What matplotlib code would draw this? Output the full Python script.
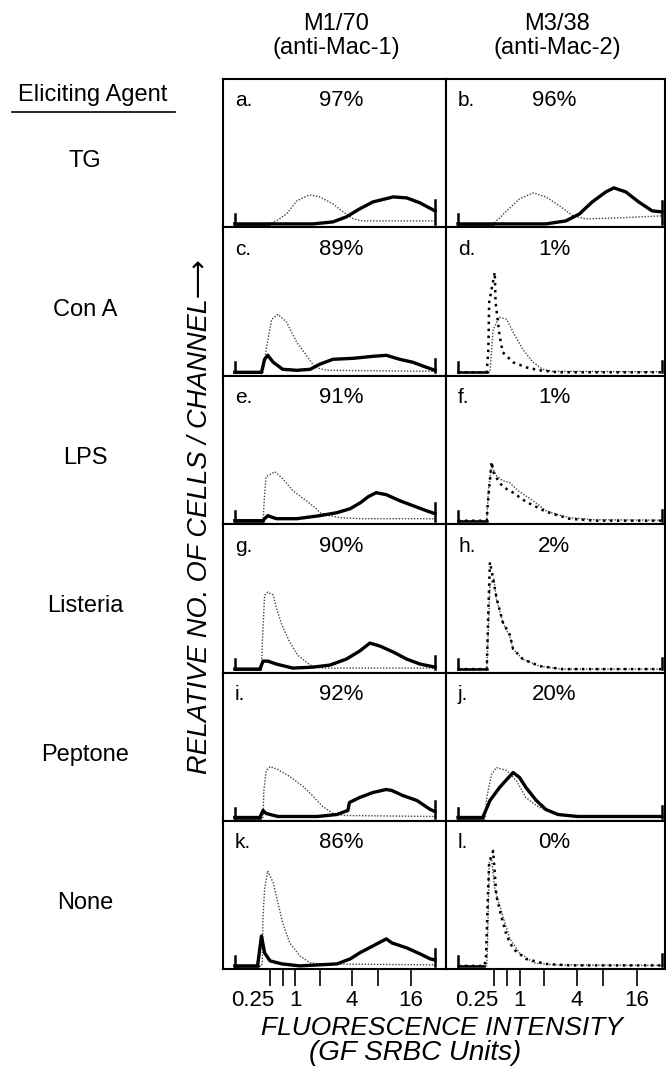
import numpy as np
import matplotlib
matplotlib.use("Agg")
import matplotlib.pyplot as plt
from matplotlib.transforms import ScaledTranslation

# -----------------------------
# Data: histograms
# (channel, relative no. of cells) for control (light) and antibody (dark)
# -----------------------------
row_labels = ["TG", "Con A", "LPS", "Listeria", "Peptone", "None"]
col_titles = [("M1/70", "(anti-Mac-1)"), ("M3/38", "(anti-Mac-2)")]
panel_letters = ["a.", "b.", "c.", "d.", "e.", "f.", "g.", "h.", "i.", "j.", "k.", "l."]
percents = ["97%", "96%", "89%", "1%", "91%", "1%", "90%", "2%", "92%", "20%", "86%", "0%"]

tick_channels = [45, 61, 77, 108, 149, 182, 224]
tick_labels = ["0.25", "", "1", "", "4", "", "16"]

a_ctrl = [(0, 0), (44, 0), (55, 4), (66, 10), (79, 23), (95, 29), (108, 27), (125, 20),
          (138, 12), (151, 5), (163, 3), (200, 3), (255, 3)]
a_mab = [(0, 0), (100, 0), (125, 2), (142, 7), (159, 15), (176, 22), (202, 27), (219, 26),
         (236, 21), (255, 13)]
b_ctrl = [(0, 0), (44, 0), (52, 6), (61, 13), (77, 25), (94, 31), (110, 27), (127, 18),
          (144, 8), (160, 5), (200, 6), (255, 8)]
b_mab = [(0, 0), (110, 0), (135, 3), (152, 10), (168, 22), (185, 32), (195, 36), (210, 32),
         (226, 22), (243, 13), (255, 12)]
c_ctrl = [(0, 0), (36, 0), (40, 23), (47, 53), (55, 58), (66, 50), (79, 30), (91, 17),
          (102, 5), (117, 2), (255, 1)]
c_mab = [(0, 0), (34, 0), (38, 13), (42, 17), (49, 10), (61, 3), (79, 2), (96, 3), (108, 8),
         (125, 13), (151, 14), (176, 16), (193, 17), (210, 13), (227, 10), (244, 5), (255, 2)]
d_ctrl = [(0, 0), (40, 0), (44, 43), (52, 55), (61, 53), (69, 40), (81, 23), (94, 10),
          (106, 3), (118, 1), (255, 0.5)]
d_mab = [(0, 0), (36, 0), (38, 23), (39, 70), (46, 100), (47, 70), (52, 37), (56, 20),
         (69, 10), (85, 5), (102, 2), (125, 0), (255, 0)]
e_ctrl = [(0, 0), (36, 0), (38, 27), (40, 44), (51, 49), (61, 42), (74, 30), (91, 20),
          (104, 12), (108, 8), (121, 5), (134, 3), (160, 2), (255, 2)]
e_mab = [(0, 0), (36, 0), (38, 2), (42, 5), (53, 2), (79, 2), (108, 5), (130, 8), (147, 12),
         (160, 18), (170, 24), (180, 28), (193, 26), (210, 20), (227, 15), (244, 10), (255, 7)]
f_ctrl = [(0, 0), (36, 0), (38, 30), (42, 55), (48, 45), (56, 40), (65, 38), (75, 30),
          (94, 20), (110, 10), (125, 6), (140, 3), (170, 1), (255, 0.5)]
f_mab = [(0, 0), (36, 0), (37, 14), (42, 59), (45, 47), (48, 43), (56, 34), (69, 28),
         (85, 19), (110, 9), (139, 2), (170, 0), (255, 0)]
g_ctrl = [(0, 0), (34, 0), (35, 24), (36, 41), (38, 74), (42, 77), (49, 74), (53, 61),
          (60, 44), (70, 27), (80, 14), (96, 4), (110, 1), (255, 1)]
g_mab = [(0, 0), (32, 0), (36, 8), (42, 8), (53, 5), (74, 1), (100, 2), (121, 4), (142, 10),
         (159, 18), (172, 26), (185, 23), (202, 17), (219, 10), (236, 5), (255, 2)]
h_ctrl = [(0, 0), (36, 0), (38, 40), (40, 85), (45, 90), (48, 70), (56, 47), (65, 32),
          (69, 20), (81, 10), (102, 3), (130, 0), (255, 0)]
h_mab = [(0, 0), (36, 0), (38, 60), (40, 107), (44, 90), (48, 72), (56, 47), (65, 34),
         (69, 20), (81, 10), (102, 3), (130, 0), (255, 0)]
i_ctrl = [(0, 0), (36, 0), (37, 27), (40, 47), (45, 51), (55, 48), (70, 41), (87, 31),
          (100, 21), (112, 11), (125, 4), (140, 2), (255, 1)]
i_mab = [(0, 0), (32, 0), (36, 7), (40, 4), (55, 1), (105, 1), (130, 3), (144, 7), (146, 15),
         (159, 20), (176, 25), (193, 28), (200, 27), (214, 22), (232, 17), (249, 8), (255, 6)]
j_ctrl = [(0, 0), (34, 0), (36, 20), (42, 43), (48, 50), (61, 47), (73, 37), (85, 20),
          (98, 12), (110, 7), (130, 2), (160, 1), (255, 1)]
j_mab = [(0, 0), (31, 0), (40, 17), (52, 30), (61, 38), (69, 45), (77, 40), (85, 30),
         (98, 17), (110, 8), (125, 3), (150, 1), (255, 1)]
k_ctrl = [(0, 0), (34, 0), (35, 3), (36, 50), (38, 77), (42, 95), (49, 83), (55, 63),
          (61, 43), (70, 23), (83, 10), (96, 3), (110, 2), (255, 1)]
k_mab = [(0, 0), (29, 0), (34, 30), (38, 13), (45, 5), (60, 2), (83, 0), (130, 2), (147, 7),
         (159, 13), (176, 20), (193, 27), (200, 23), (219, 18), (236, 12), (249, 7), (255, 6)]
l_ctrl = [(0, 0), (36, 0), (37, 23), (39, 103), (42, 107), (46, 77), (56, 50), (65, 27),
          (77, 13), (95, 3), (120, 1), (255, 0.5)]
l_mab = [(0, 0), (33, 0), (35, 7), (37, 60), (39, 103), (44, 115), (46, 93), (48, 70),
         (54, 50), (61, 30), (69, 17), (85, 7), (110, 2), (140, 0.5), (255, 0.5)]

controls = [a_ctrl, b_ctrl, c_ctrl, d_ctrl, e_ctrl, f_ctrl, g_ctrl, h_ctrl, i_ctrl, j_ctrl, k_ctrl, l_ctrl]
antibody = [a_mab, b_mab, c_mab, d_mab, e_mab, f_mab, g_mab, h_mab, i_mab, j_mab, k_mab, l_mab]
sparse = [False, False, False, True, False, True, False, True, False, False, False, True]

# -----------------------------
# Figure layout (in pixels of the 666 x 1070 picture)
# -----------------------------
W, H = 666, 1070
plt.rcParams["font.family"] = ["Liberation Sans", "DejaVu Sans"]
fig = plt.figure(figsize=(W / 100, H / 100), dpi=100)

col_x = [223, 446]
col_w = [223, 219]
col_xlim = [(-15, 269), (-15, 259)]
pct_x = [0.53, 0.495]
top, row_h = 79, 148.4


def fx(x):
    return x / W


def fy(y):
    return 1 - y / H


for r in range(6):
    for c in range(2):
        i = r * 2 + c
        y0 = top + r * row_h
        ax = fig.add_axes([fx(col_x[c]), fy(y0 + row_h), col_w[c] / W, row_h / H])
        ax.set_xlim(*col_xlim[c])
        ax.set_ylim(-3.5, row_h - 3.5)

        cx, cy = zip(*controls[i])
        ax.plot(cx, cy, color="#444444", lw=1.0, ls=(0, (1, 1.2)))
        mx, my = zip(*antibody[i])
        if sparse[i]:
            ax.plot(mx, my, color="black", lw=1.8, ls=(0, (1, 1.8)))
        else:
            ax.plot(mx, my, color="black", lw=2.4)

        # the little end brackets of the histogram frame
        ax.plot([0, 0], [0, 10], color="black", lw=1.8)
        ax.plot([0, min(cx[1], mx[1])], [0, 0], color="black", lw=1.8)
        ax.plot([255, 255], [0, max(10, my[-1] + 11)], color="black", lw=1.8)

        ax.text(12 / col_w[c], 1 - 22 / row_h, panel_letters[i], transform=ax.transAxes,
                fontsize=15, va="center", ha="left")
        ax.text(pct_x[c], 1 - 22 / row_h, percents[i], transform=ax.transAxes,
                fontsize=16, va="center", ha="center")

        for s in ax.spines.values():
            s.set_linewidth(1.5)
        ax.set_yticks([])
        if r == 5:
            ax.set_xticks(tick_channels)
            ax.set_xticklabels(tick_labels)
            ax.tick_params(axis="x", direction="out", length=12, width=1.2,
                           labelsize=16, pad=3)
            # "0.25" sits to the left of its tick in the original
            lab = ax.get_xticklabels()[0]
            lab.set_transform(lab.get_transform() + ScaledTranslation(-0.17, 0, fig.dpi_scale_trans))
        else:
            ax.set_xticks([])

# column headers
for c, (t1, t2) in enumerate(col_titles):
    xc = col_x[c] + col_w[c] / 2 + 2
    fig.text(fx(xc), fy(24), t1, fontsize=17, ha="center", va="center")
    fig.text(fx(xc), fy(48), t2, fontsize=17, ha="center", va="center")

# row labels
fig.text(fx(93), fy(95), "Eliciting Agent", fontsize=17, ha="center", va="center")
fig.add_artist(plt.Line2D([fx(12), fx(175)], [fy(112), fy(112)], color="black", lw=1.2))
for r, lab in enumerate(row_labels):
    fig.text(fx(85), fy(top + (r + 0.5) * row_h + 8), lab, fontsize=17,
             ha="center", va="center")

# axis titles
fig.text(fx(200), fy(517), "RELATIVE NO. OF CELLS / CHANNEL\u27f6", fontsize=19.5,
         style="italic", rotation=90, ha="center", va="center")
fig.text(fx(442), fy(1028), "FLUORESCENCE INTENSITY", fontsize=19, style="italic",
         ha="center", va="center")
fig.text(fx(415), fy(1053), "(GF SRBC Units)", fontsize=20, style="italic",
         ha="center", va="center")

fig.savefig("out.png", dpi=100)
